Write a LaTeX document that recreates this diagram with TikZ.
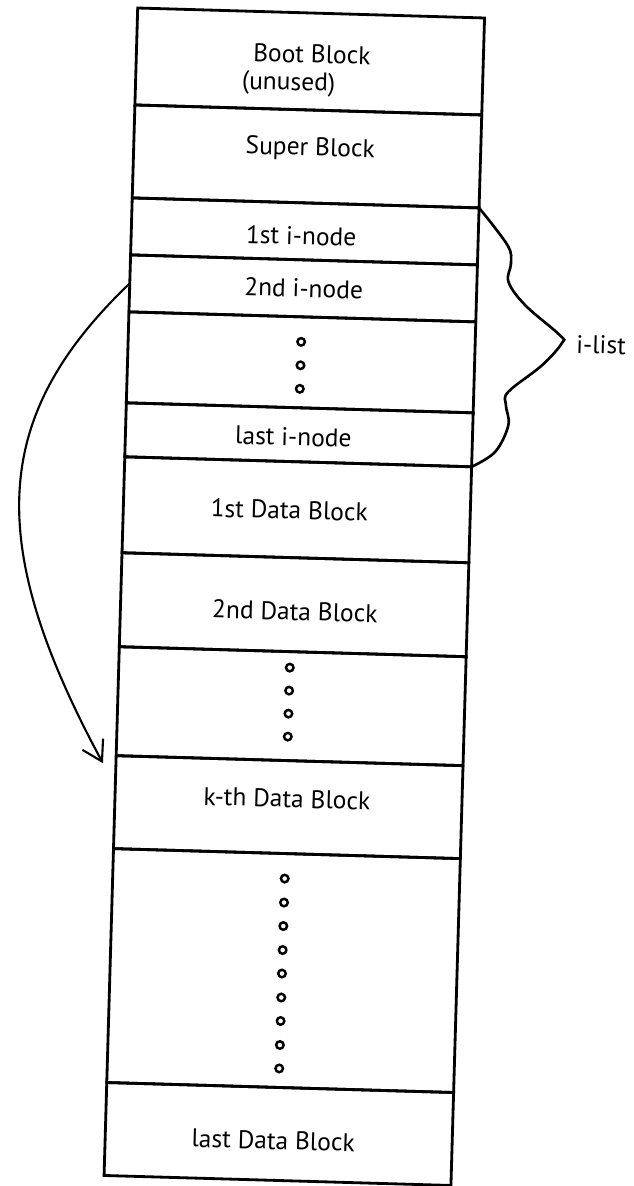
\documentclass[tikz,border=0pt]{standalone}
\usepackage{fontspec}
\setmainfont{PT Sans}
\usetikzlibrary{arrows.meta}
\tikzset{
blockrow/.style={draw, rectangle, line width=1.6pt, anchor=north west,
  minimum width=6.94cm, inner sep=0pt, outer sep=0pt},
lbl/.style={font=\fontsize{14.5}{17}\selectfont, inner sep=1pt},
hole/.style={line width=1.4pt},
link/.style={line width=1.2pt, -{Straight Barb[length=0.39cm,width=0.47cm]}},
ilistbrace/.style={line width=1.5pt}
}

\begin{document}
\begin{tikzpicture}
\useasboundingbox (0,0) rectangle (12.66,-23.72);
\begin{scope}[shift={(2.754,-0.16)}, rotate=-1.65, transform shape]
  % the disk, block by block from the top
  \node[blockrow, minimum height=1.94cm] (boot) at (0,0) {};
  \node[blockrow, minimum height=1.86cm] (super) at (0,-1.94) {};
  \node[blockrow, minimum height=1.14cm] (inode1) at (0,-3.8) {};
  \node[blockrow, minimum height=1.14cm] (inode2) at (0,-4.94) {};
  \node[blockrow, minimum height=1.82cm] (inodes) at (0,-6.08) {};
  \node[blockrow, minimum height=1.08cm] (inodeN) at (0,-7.9) {};
  \node[blockrow, minimum height=1.92cm] (data1) at (0,-8.98) {};
  \node[blockrow, minimum height=1.88cm] (data2) at (0,-10.9) {};
  \node[blockrow, minimum height=2.18cm] (datas) at (0,-12.78) {};
  \node[blockrow, minimum height=1.86cm] (datak) at (0,-14.96) {};
  \node[blockrow, minimum height=4.68cm] (datam) at (0,-16.82) {};
  \node[blockrow, minimum height=1.86cm] (dataN) at (0,-21.5) {};

  \node[lbl] (tboot) at (3.51,-0.82) {Boot Block};
  \node[lbl] (tunused) at (3.06,-1.43) {(unused)};
  \node[lbl] (tsuper) at (3.53,-2.72) {Super Block};
  \node[lbl] (tinode1) at (3.40,-4.46) {1st i-node};
  \node[lbl] (tinode2) at (3.48,-5.51) {2nd i-node};
  \node[lbl] (tinodeN) at (3.36,-8.48) {last i-node};
  \node[lbl] (tdata1) at (3.32,-9.95) {1st Data Block};
  \node[lbl] (tdata2) at (3.49,-11.97) {2nd Data Block};
  \node[lbl] (tdatak) at (3.44,-15.72) {k-th Data Block};
  \node[lbl] (tdataN) at (3.36,-22.56) {last Data Block};

  % more i-nodes
  \draw[hole] (3.46,-6.58) circle [radius=0.075];
  \draw[hole] (3.46,-7.05) circle [radius=0.075];
  \draw[hole] (3.46,-7.52) circle [radius=0.075];
  % more data blocks
  \draw[hole] (3.42,-13.10) circle [radius=0.075];
  \draw[hole] (3.42,-13.56) circle [radius=0.075];
  \draw[hole] (3.42,-14.02) circle [radius=0.075];
  \draw[hole] (3.42,-14.48) circle [radius=0.075];
  \draw[hole] (3.44,-17.32) circle [radius=0.075];
  \draw[hole] (3.44,-17.80) circle [radius=0.075];
  \draw[hole] (3.44,-18.27) circle [radius=0.075];
  \draw[hole] (3.44,-18.75) circle [radius=0.075];
  \draw[hole] (3.44,-19.22) circle [radius=0.075];
  \draw[hole] (3.44,-19.70) circle [radius=0.075];
  \draw[hole] (3.44,-20.17) circle [radius=0.075];
  \draw[hole] (3.44,-20.65) circle [radius=0.075];
  \draw[hole] (3.44,-21.12) circle [radius=0.075];

  % the i-node points at a data block
  \coordinate (kin) at (-0.26,-15.12);
  \draw[link] (inode2.west) .. controls (-2.70,-8.24) and (-2.76,-10.79) .. (kin);

  % i-list brace
  \draw[ilistbrace] plot[smooth, tension=0.6] coordinates {(inode1.north east)
    (7.53,-4.53) (7.61,-4.89) (7.57,-5.26) (7.92,-5.72) (8.63,-6.30) (8.67,-6.46)
    (8.29,-6.91) (7.63,-7.46) (7.59,-7.73) (7.65,-8.13) (7.40,-8.67) (inodeN.south east)};
  \node[lbl, anchor=west] (ilist) at (8.92,-6.47) {i-list};
\end{scope}
\end{tikzpicture}
\end{document}
